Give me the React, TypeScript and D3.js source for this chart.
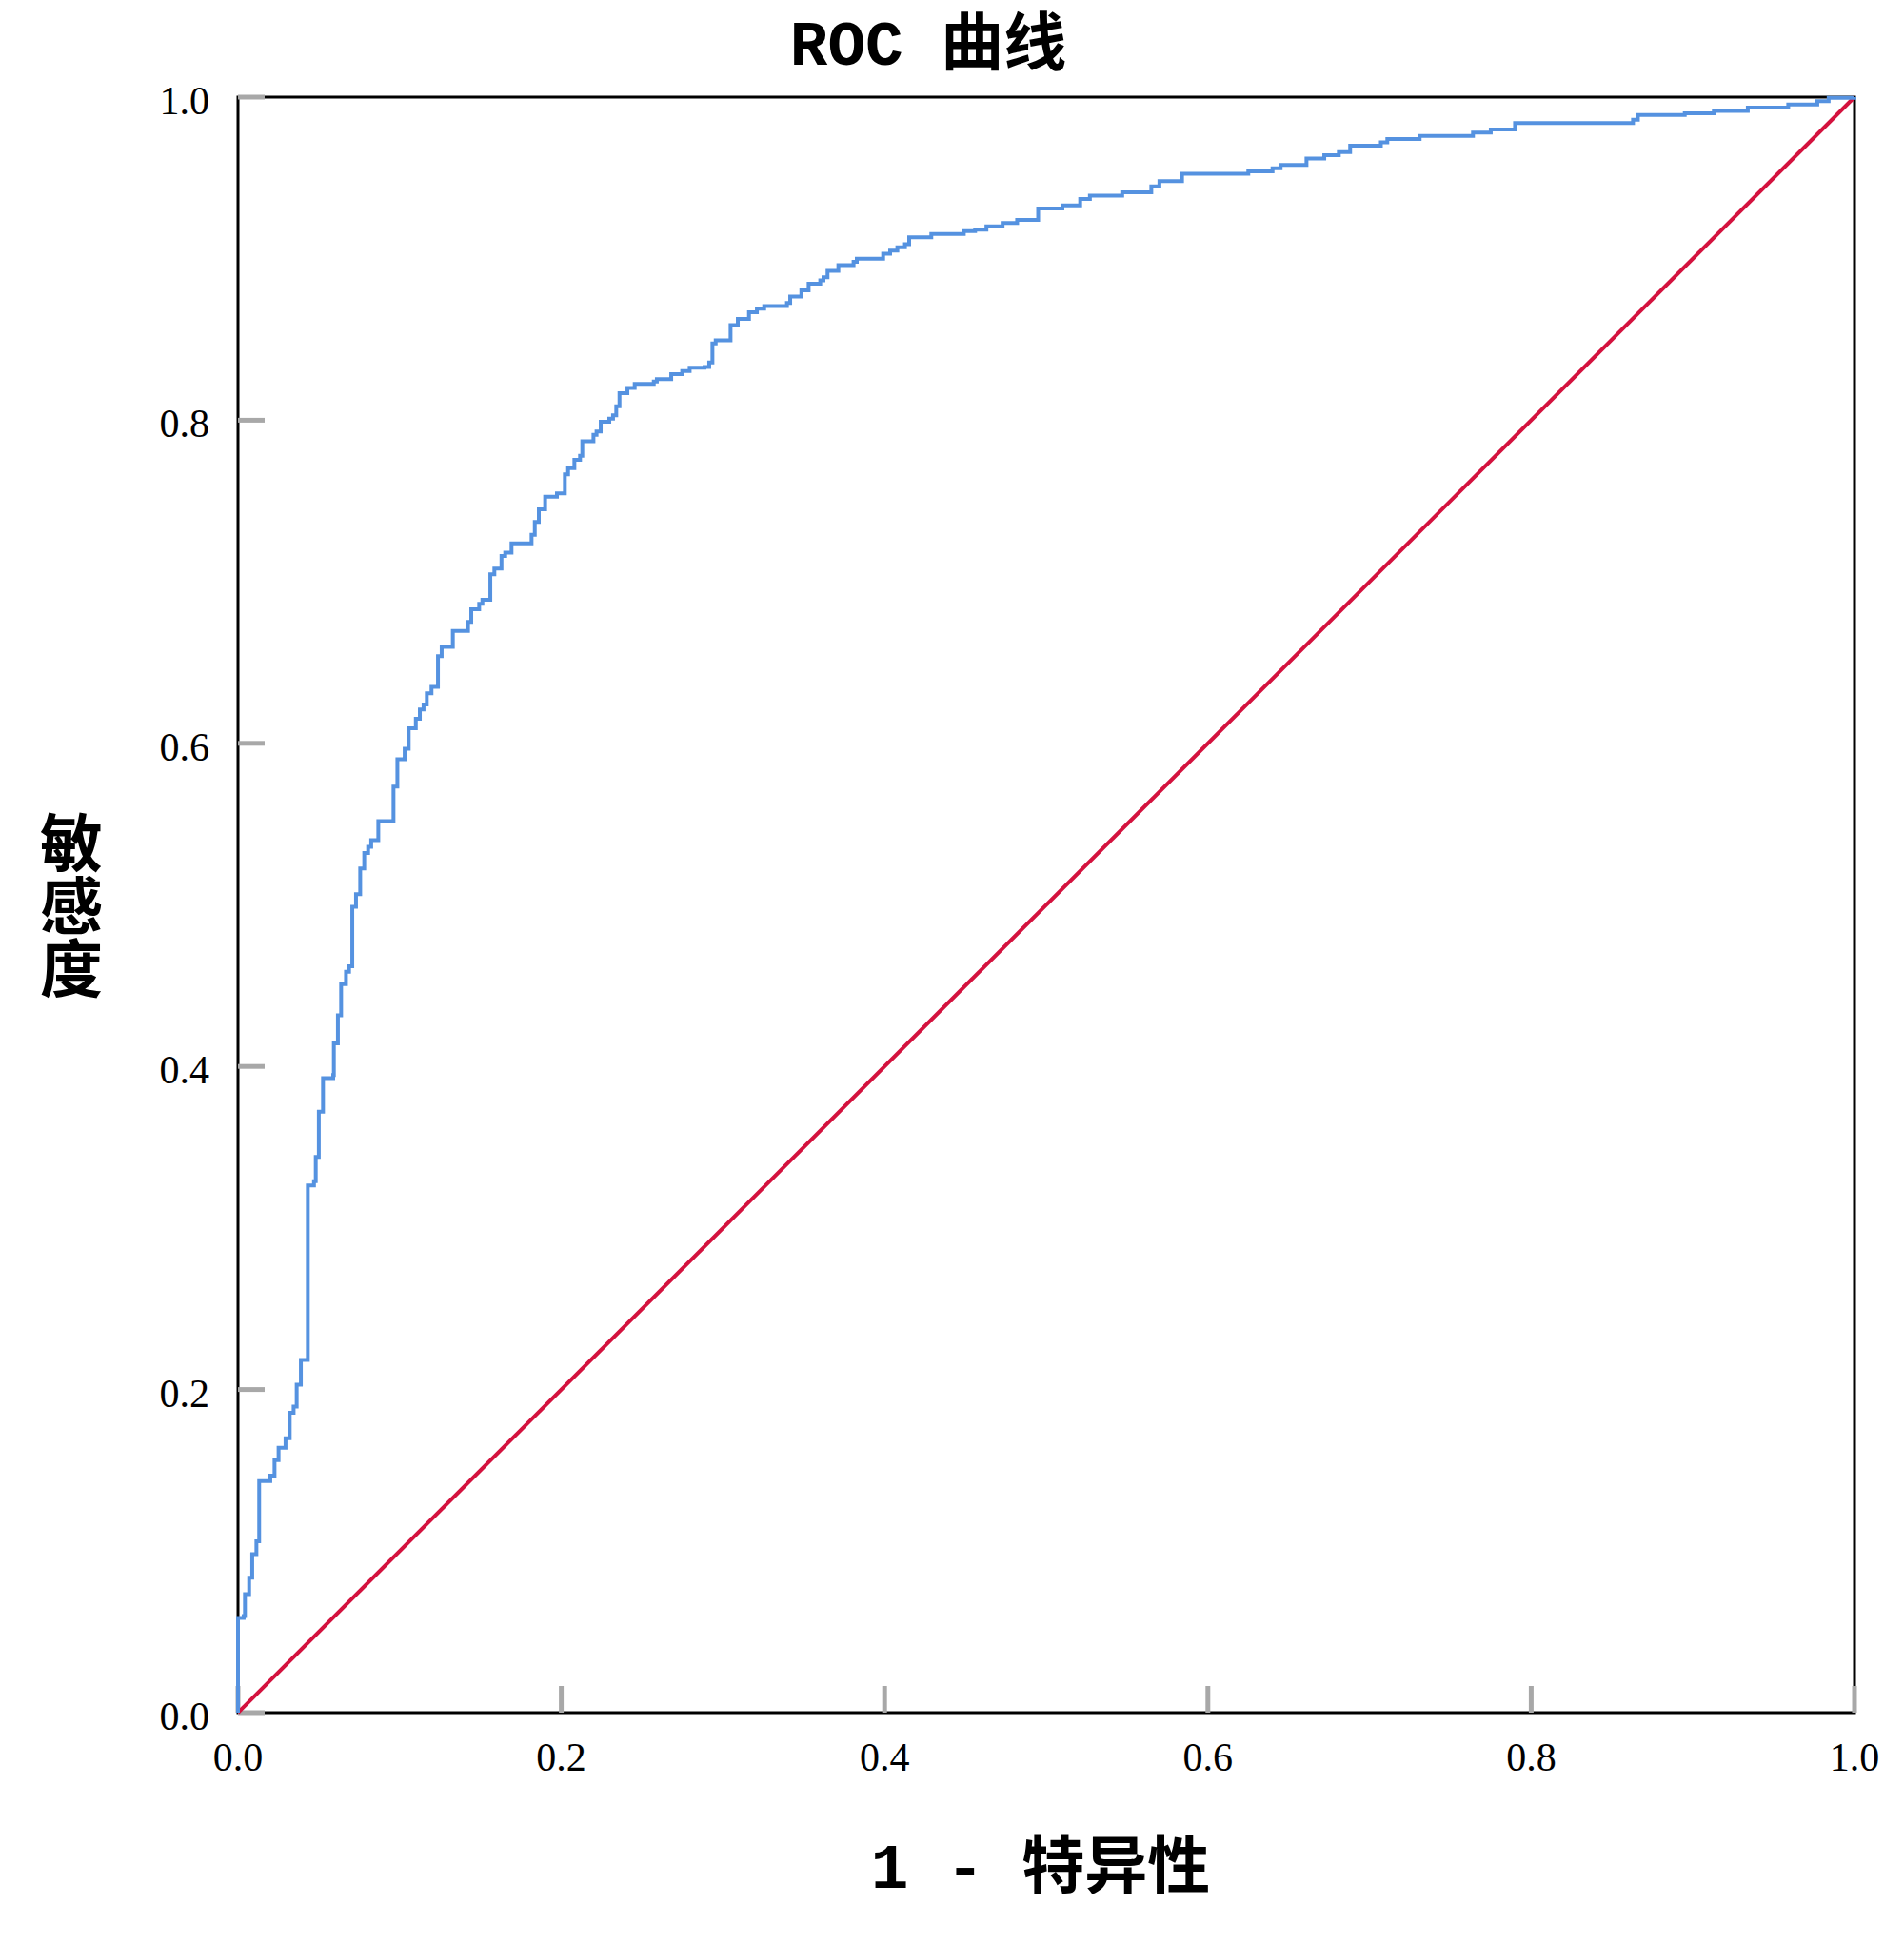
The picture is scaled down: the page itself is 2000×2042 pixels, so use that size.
import React from "react";
import * as d3 from "d3";

// ROC points: x = 1 - specificity, y = sensitivity
const fpr = [
  0, 0, 0.0035, 0.0043, 0.0069, 0.0088, 0.0114, 0.0131, 0.02, 0.0226, 0.0251,
  0.0294, 0.032, 0.0344, 0.0363, 0.0389, 0.0432, 0.047, 0.0481, 0.05, 0.0526,
  0.0589, 0.0593, 0.0618, 0.0638, 0.0668, 0.0687, 0.0707, 0.073, 0.0756,
  0.0781, 0.0805, 0.0824, 0.0868, 0.0962, 0.0986, 0.1031, 0.1056, 0.11,
  0.1125, 0.1148, 0.1168, 0.1197, 0.1237, 0.126, 0.1329, 0.1423, 0.1443,
  0.1492, 0.1512, 0.1561, 0.1586, 0.163, 0.1653, 0.1692, 0.1816, 0.1836,
  0.1861, 0.19, 0.1973, 0.2022, 0.2042, 0.2081, 0.2116, 0.213, 0.2199, 0.2218,
  0.2244, 0.2297, 0.232, 0.234, 0.236, 0.2409, 0.2454, 0.2572, 0.2591, 0.268,
  0.2748, 0.2794, 0.2886, 0.2915, 0.2935, 0.2955, 0.3047, 0.3092, 0.3161,
  0.321, 0.3255, 0.3396, 0.3416, 0.3485, 0.353, 0.3602, 0.3622, 0.3647,
  0.3714, 0.3808, 0.3828, 0.3991, 0.4034, 0.4079, 0.4126, 0.4152, 0.4289,
  0.449, 0.456, 0.463, 0.473, 0.482, 0.495, 0.51, 0.521, 0.527, 0.547, 0.565,
  0.57, 0.584, 0.625, 0.64, 0.645, 0.661, 0.672, 0.681, 0.688, 0.707, 0.711,
  0.731, 0.764, 0.775, 0.79, 0.863, 0.866, 0.895, 0.913, 0.934, 0.959, 0.977,
  0.984, 1,
];
const tpr = [
  0, 0.0587, 0.0598, 0.0734, 0.0835, 0.0981, 0.106, 0.1433, 0.1467, 0.1563,
  0.164, 0.1699, 0.1856, 0.1894, 0.203, 0.2183, 0.3263, 0.329, 0.344, 0.372,
  0.3928, 0.3946, 0.4142, 0.4316, 0.451, 0.4586, 0.462, 0.4988, 0.5067,
  0.5225, 0.5321, 0.536, 0.5401, 0.5518, 0.5732, 0.5901, 0.5966, 0.6093,
  0.6152, 0.621, 0.624, 0.631, 0.635, 0.6539, 0.6597, 0.6696, 0.6751, 0.683,
  0.6864, 0.6889, 0.7046, 0.7082, 0.716, 0.718, 0.7238, 0.7291, 0.737, 0.7449,
  0.7527, 0.7547, 0.7665, 0.7704, 0.7755, 0.778, 0.787, 0.791, 0.793, 0.799,
  0.801, 0.803, 0.8087, 0.8167, 0.82, 0.8225, 0.824, 0.8255, 0.8285, 0.8305,
  0.8325, 0.833, 0.8357, 0.8475, 0.8495, 0.8588, 0.8627, 0.8668, 0.869,
  0.8706, 0.8725, 0.8765, 0.8804, 0.8845, 0.8865, 0.8885, 0.8924, 0.896, 0.898,
  0.9, 0.903, 0.905, 0.907, 0.909, 0.9133, 0.9153, 0.917, 0.918, 0.92, 0.922,
  0.924, 0.931, 0.933, 0.937, 0.939, 0.941, 0.9448, 0.948, 0.9525, 0.954,
  0.956, 0.958, 0.962, 0.964, 0.966, 0.97, 0.972, 0.974, 0.976, 0.978, 0.98,
  0.984, 0.986, 0.989, 0.99, 0.9915, 0.9935, 0.9955, 0.9975, 0.9995, 1, 1,
];
const refLine = [0, 1];
const tickValues = [0, 0.2, 0.4, 0.6, 0.8, 1.0];

const title = "ROC 曲线";
const xTitle = "1 - 特异性";
const yTitle = "敏感度";

const W = 2000;
const H = 2042;
const plot = { left: 250, right: 1948, top: 102, bottom: 1799 };

const tickFont = "'Liberation Serif', 'Times New Roman', serif";
const titleFont = "'Liberation Mono', 'Noto Sans CJK SC', monospace";

export default function App() {
  const x = d3.scaleLinear().domain([0, 1]).range([plot.left, plot.right]);
  const y = d3.scaleLinear().domain([0, 1]).range([plot.bottom, plot.top]);

  const pts: [number, number][] = fpr.map((f, i) => [f, tpr[i]]);
  const roc = d3
    .line<[number, number]>()
    .x((d) => x(d[0]))
    .y((d) => y(d[1]))
    .curve(d3.curveStepAfter)(pts);
  const diag = d3
    .line<number>()
    .x((d) => x(d))
    .y((d) => y(d))(refLine);

  const tickLen = 28;
  const midX = (plot.left + plot.right) / 2;
  const midY = (plot.top + plot.bottom) / 2;

  return (
    <svg
      width={W}
      height={H}
      style={{ position: "absolute", left: 0, top: 0, background: "#fff" }}
    >
      <rect width={W} height={H} fill="#fff" />

      {/* frame */}
      <rect
        x={plot.left}
        y={plot.top}
        width={plot.right - plot.left}
        height={plot.bottom - plot.top}
        fill="none"
        stroke="#000"
        strokeWidth={3}
      />

      {/* ticks, drawn inside the frame */}
      {tickValues.map((t) => (
        <line
          key={"yt" + t}
          x1={plot.left}
          x2={plot.left + tickLen}
          y1={y(t)}
          y2={y(t)}
          stroke="#a8a8a8"
          strokeWidth={5}
        />
      ))}
      {tickValues.map((t) => (
        <line
          key={"xt" + t}
          x1={x(t)}
          x2={x(t)}
          y1={plot.bottom}
          y2={plot.bottom - tickLen}
          stroke="#a8a8a8"
          strokeWidth={5}
        />
      ))}

      {/* tick labels */}
      {tickValues.map((t) => (
        <text
          key={"yl" + t}
          x={220}
          y={y(t) + 18}
          textAnchor="end"
          fontFamily={tickFont}
          fontSize={42}
          fill="#000"
        >
          {t.toFixed(1)}
        </text>
      ))}
      {tickValues.map((t) => (
        <text
          key={"xl" + t}
          x={x(t)}
          y={plot.bottom + 61}
          textAnchor="middle"
          fontFamily={tickFont}
          fontSize={42}
          fill="#000"
        >
          {t.toFixed(1)}
        </text>
      ))}

      {/* curves */}
      <path d={diag || ""} fill="none" stroke="#d4123e" strokeWidth={4} />
      <path d={roc || ""} fill="none" stroke="#5592e0" strokeWidth={4} />

      {/* titles */}
      <text
        x={975}
        y={68}
        textAnchor="middle"
        fontFamily={titleFont}
        fontWeight="bold"
        fontSize={66}
        fill="#000"
      >
        {title}
      </text>
      <text
        x={midX - 6}
        y={1983}
        textAnchor="middle"
        fontFamily={titleFont}
        fontWeight="bold"
        fontSize={66}
        fill="#000"
      >
        {xTitle}
      </text>
      <text
        x={75}
        y={midY}
        textAnchor="middle"
        fontFamily="'Noto Sans CJK SC', sans-serif"
        fontWeight="bold"
        fontSize={66}
        fill="#000"
        style={{ writingMode: "vertical-rl" }}
      >
        {yTitle}
      </text>
    </svg>
  );
}
